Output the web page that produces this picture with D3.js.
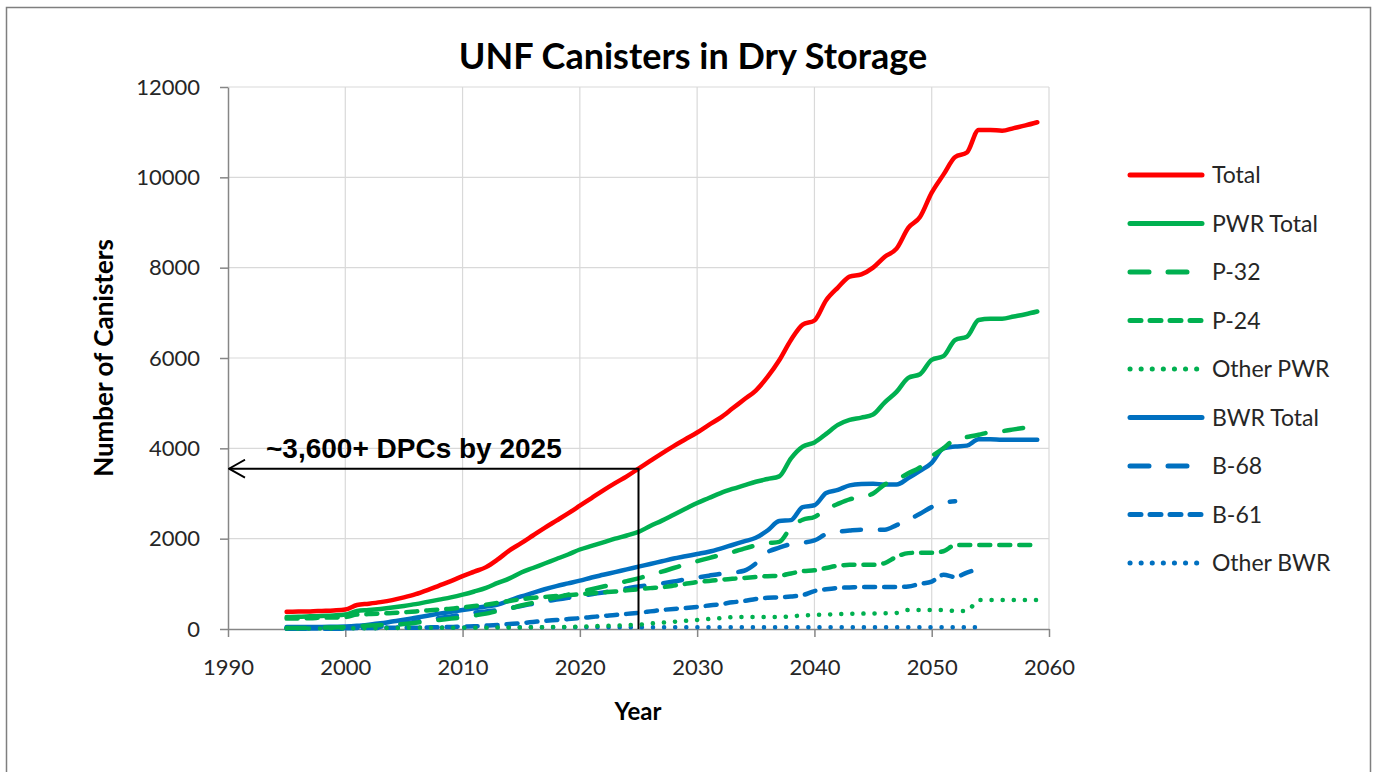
<!DOCTYPE html>
<html>
<head>
<meta charset="utf-8">
<script src="https://cdn.jsdelivr.net/npm/d3@7/dist/d3.min.js"></script>
<style>
    body { margin: 0; background: #fff; }
    svg { display: block; }
</style>
</head>
<body>
<svg width="1377" height="772"></svg>
<script>
// yearly values, 1995..2059 (null = series ended)
const years = d3.range(1995, 2060);

const total = [380, 385, 390, 400, 410, 430, 530, 560, 595, 640,
    700, 770, 860, 960, 1060, 1170, 1270, 1370, 1540, 1740,
    1900, 2070, 2240, 2400, 2560, 2730, 2900, 3070, 3230, 3380,
    3550, 3720, 3890, 4050, 4200, 4350, 4520, 4680, 4880, 5080,
    5280, 5580, 5950, 6400, 6740, 6830, 7280, 7560, 7800, 7850,
    8000, 8240, 8420, 8880, 9120, 9660, 10060, 10450, 10550, 11050,
    11050, 11030, 11090, 11150, 11220];

const pwrTotal = [265, 270, 280, 290, 300, 320, 400, 420, 445, 475,
    510, 550, 600, 650, 700, 760, 830, 910, 1020, 1120,
    1250, 1350, 1450, 1550, 1650, 1760, 1840, 1920, 2000, 2070,
    2150, 2280, 2400, 2530, 2660, 2790, 2900, 3010, 3100, 3180,
    3260, 3320, 3380, 3780, 4040, 4130, 4320, 4520, 4630, 4680,
    4750, 5020, 5250, 5560, 5640, 5960, 6040, 6400, 6470, 6840,
    6870, 6870, 6920, 6970, 7030];

const p32 = [20, 20, 25, 30, 35, 40, 60, 75, 90, 100,
    110, 140, 170, 200, 230, 260, 300, 340, 400, 450,
    520, 580, 640, 700, 760, 820, 880, 940, 1000, 1060,
    1120, 1200, 1270, 1350, 1430, 1500, 1570, 1640, 1700, 1780,
    1850, 1900, 1930, 2250, 2420, 2480, 2650, 2770, 2870, 2920,
    3000, 3200, 3300, 3450, 3580, 3820, 4000, 4200, 4250, 4300,
    4360, 4380, 4420, 4460, 4500];

const p24 = [230, 235, 240, 250, 255, 265, 320, 330, 340, 355,
    370, 390, 410, 430, 450, 480, 510, 540, 580, 620,
    660, 690, 710, 730, 750, 770, 790, 810, 830, 855,
    880, 905, 925, 960, 1000, 1040, 1065, 1090, 1110, 1130,
    1150, 1170, 1180, 1230, 1280, 1300, 1350, 1400, 1420, 1420,
    1420, 1460, 1600, 1680, 1690, 1690, 1720, 1860, 1860, 1860,
    1860, 1860, 1860, 1860, 1860];

const otherPwr = [10, 10, 10, 10, 10, 15, 15, 15, 20, 20,
    25, 25, 25, 30, 30, 30, 30, 30, 35, 35,
    35, 40, 40, 45, 45, 50, 60, 70, 75, 85,
    95, 120, 140, 160, 180, 200, 220, 240, 260, 265,
    265, 265, 265, 280, 300, 310, 320, 330, 335, 340,
    345, 350, 355, 420, 420, 420, 420, 400, 400, 640,
    640, 640, 640, 640, 640];

const bwrTotal = [45, 45, 45, 45, 50, 55, 70, 95, 125, 165,
    205, 250, 295, 340, 380, 420, 460, 500, 540, 630,
    720, 800, 880, 950, 1010, 1070, 1140, 1200, 1260, 1320,
    1380, 1440, 1500, 1560, 1610, 1660, 1710, 1780, 1860, 1940,
    2020, 2180, 2390, 2410, 2700, 2740, 3010, 3080, 3180, 3210,
    3215, 3200, 3200, 3340, 3500, 3680, 4000, 4040, 4060, 4200,
    4200, 4190, 4190, 4190, 4190];

const b68 = [5, 5, 5, 5, 5, 10, 15, 30, 50, 80,
    120, 160, 200, 240, 280, 320, 360, 390, 420, 460,
    510, 560, 610, 650, 690, 730, 770, 810, 850, 900,
    940, 975, 1010, 1050, 1100, 1140, 1180, 1220, 1250, 1290,
    1450, 1700, 1800, 1880, 1910, 1960, 2100, 2150, 2180, 2200,
    2200, 2200, 2300, 2420, 2550, 2700, 2790, 2830, null, null,
    null, null, null, null, null];

const b61 = [10, 10, 10, 10, 15, 15, 20, 20, 25, 25,
    30, 30, 35, 40, 45, 55, 60, 75, 90, 110,
    130, 155, 180, 200, 220, 240, 265, 290, 310, 335,
    360, 390, 420, 445, 465, 490, 520, 550, 590, 620,
    665, 690, 700, 720, 750, 840, 880, 910, 920, 930,
    930, 930, 930, 940, 1000, 1050, 1200, 1150, 1250, 1330,
    null, null, null, null, null];

const otherBwr = [30, 30, 30, 30, 30, 30, 35, 35, 35, 35,
    35, 35, 35, 35, 35, 35, 40, 40, 40, 40,
    40, 40, 40, 40, 40, 40, 40, 40, 40, 40,
    40, 40, 40, 40, 40, 40, 40, 40, 40, 40,
    40, 40, 40, 40, 40, 40, 40, 40, 40, 40,
    40, 40, 40, 40, 40, 40, 40, 40, 40, 40,
    null, null, null, null, null];

const seriesNames = ['Total', 'PWR Total', 'P-32', 'P-24', 'Other PWR', 'BWR Total', 'B-68', 'B-61', 'Other BWR'];
const seriesValues = [total, pwrTotal, p32, p24, otherPwr, bwrTotal, b68, b61, otherBwr];

const xTicks = [1990, 2000, 2010, 2020, 2030, 2040, 2050, 2060];
const yTicks = [0, 2000, 4000, 6000, 8000, 10000, 12000];

const annoYear = 2025;
const annoValue = 3550;
const annoText = '~3,600+ DPCs by 2025';

// line looks
const red = '#ff0000', green = '#00b050', blue = '#0070c0';
const styles = [
    {color: red, dash: null},
    {color: green, dash: null},
    {color: green, dash: '19,19'},
    {color: green, dash: '11,9'},
    {color: green, dash: '0.1,11'},
    {color: blue, dash: null},
    {color: blue, dash: '19,19'},
    {color: blue, dash: '11,9'},
    {color: blue, dash: '0.1,11'}
];

const svg = d3.select('svg');
const font = 'Lato, "Open Sans", sans-serif';
const textColor = '#262626';

const x = d3.scaleLinear().domain([1990, 2060]).range([228, 1049]);
const y = d3.scaleLinear().domain([0, 12000]).range([629, 87]);

// outer frame
svg.append('rect')
    .attr('x', 6.5).attr('y', 7.5)
    .attr('width', 1364).attr('height', 800)
    .attr('fill', '#fff')
    .attr('stroke', '#7f7f7f')
    .attr('stroke-width', 1.5);

// grid
const grid = svg.append('g').attr('class', 'grid');
grid.selectAll('line.h')
    .data(yTicks.filter(d => d > 0))
    .enter().append('line')
    .attr('x1', x(1990)).attr('x2', x(2060))
    .attr('y1', d => y(d)).attr('y2', d => y(d))
    .attr('stroke', '#d9d9d9').attr('stroke-width', 1.2);
grid.selectAll('line.v')
    .data(xTicks.filter(d => d > 1990))
    .enter().append('line')
    .attr('x1', d => x(d)).attr('x2', d => x(d))
    .attr('y1', y(0)).attr('y2', y(12000))
    .attr('stroke', '#d9d9d9').attr('stroke-width', 1.2);

// axes
const yAxis = svg.append('g')
    .attr('transform', 'translate(' + x(1990) + ',0)')
    .call(d3.axisLeft(y).tickValues(yTicks).tickSize(8).tickSizeOuter(0).tickPadding(20).tickFormat(d3.format('d')));
const xAxis = svg.append('g')
    .attr('transform', 'translate(0,' + y(0) + ')')
    .call(d3.axisBottom(x).tickValues(xTicks).tickSize(8).tickSizeOuter(0).tickPadding(22).tickFormat(d3.format('d')));

[yAxis, xAxis].forEach(a => {
    a.select('.domain').attr('stroke', '#868686').attr('stroke-width', 1.5);
    a.selectAll('.tick line').attr('stroke', '#868686').attr('stroke-width', 1.5);
    a.selectAll('.tick text')
        .attr('fill', textColor)
        .style('font-family', font)
        .style('font-size', '22px');
});

// data lines
const line = d3.line()
    .defined(d => d[1] !== null)
    .x(d => x(d[0]))
    .y(d => y(d[1]))
    .curve(d3.curveMonotoneX);

const lines = svg.append('g').attr('class', 'lines');
// draw bottom series first so totals sit on top
for (let i = seriesValues.length - 1; i >= 0; i--) {
    const pts = years.map((yr, k) => [yr, seriesValues[i][k]]);
    lines.append('path')
        .datum(pts)
        .attr('d', line)
        .attr('fill', 'none')
        .attr('stroke', styles[i].color)
        .attr('stroke-width', 4.5)
        .attr('stroke-linecap', 'round')
        .attr('stroke-linejoin', 'round')
        .attr('stroke-dasharray', styles[i].dash);
}

// annotation: arrow back to the y axis
svg.append('defs').append('marker')
    .attr('id', 'openArrow')
    .attr('viewBox', '0 -10 18 20')
    .attr('refX', 17).attr('refY', 0)
    .attr('markerWidth', 18).attr('markerHeight', 20)
    .attr('markerUnits', 'userSpaceOnUse')
    .attr('orient', 'auto')
    .append('path')
    .attr('d', 'M 1,-9 L 17,0 L 1,9')
    .attr('fill', 'none')
    .attr('stroke', '#000')
    .attr('stroke-width', 1.8);

svg.append('path')
    .attr('d', 'M' + x(annoYear) + ',' + y(0) + ' L' + x(annoYear) + ',' + y(annoValue) + ' L' + (x(1990) + 1) + ',' + y(annoValue))
    .attr('fill', 'none')
    .attr('stroke', '#000')
    .attr('stroke-width', 2)
    .attr('marker-end', 'url(#openArrow)');

svg.append('text')
    .attr('x', 266).attr('y', y(annoValue) - 11)
    .attr('fill', '#000')
    .style('font-family', 'Arial, "Liberation Sans", sans-serif')
    .style('font-weight', 'bold')
    .style('font-size', '28px')
    .text(annoText);

// titles
svg.append('text')
    .attr('x', 693).attr('y', 69)
    .attr('text-anchor', 'middle')
    .attr('fill', '#000')
    .style('font-family', font)
    .style('font-weight', 'bold')
    .style('font-size', '36px')
    .text('UNF Canisters in Dry Storage');

svg.append('text')
    .attr('transform', 'translate(113,358) rotate(-90)')
    .attr('text-anchor', 'middle')
    .attr('fill', '#000')
    .style('font-family', font)
    .style('font-weight', 'bold')
    .style('font-size', '26px')
    .text('Number of Canisters');

svg.append('text')
    .attr('x', 638).attr('y', 720)
    .attr('text-anchor', 'middle')
    .attr('fill', '#000')
    .style('font-family', font)
    .style('font-weight', 'bold')
    .style('font-size', '24px')
    .text('Year');

// legend
const legend = svg.append('g')
    .selectAll('g')
    .data(seriesNames)
    .enter().append('g')
    .attr('transform', (d, i) => 'translate(1128,' + (175 + i * 48.5) + ')');

legend.append('line')
    .attr('x1', 2).attr('x2', 74)
    .attr('stroke', (d, i) => styles[i].color)
    .attr('stroke-width', 5)
    .attr('stroke-linecap', 'round')
    .attr('stroke-dasharray', (d, i) => styles[i].dash);

legend.append('text')
    .attr('x', 84).attr('dy', '0.35em')
    .attr('fill', textColor)
    .style('font-family', font)
    .style('font-size', '23px')
    .text(d => d);
</script>
</body>
</html>
